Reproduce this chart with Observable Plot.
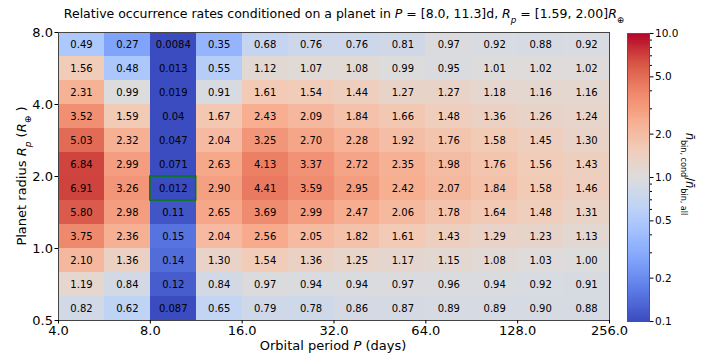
<!DOCTYPE html>
<html><head><meta charset="utf-8">
<script src="https://cdn.jsdelivr.net/npm/d3@7"></script>
<script src="https://cdn.jsdelivr.net/npm/@observablehq/plot@0.6"></script>
<style>
body{margin:0;background:#fff;font-family:"DejaVu Sans",sans-serif;}
#wrap{position:relative;width:707px;height:357px;}
#wrap svg{position:absolute;top:0;}
</style></head><body><div id="wrap"></div>
<script>
// Bin edges (orbital period in days, planet radius in Earth radii)
const periodEdges = [4, 5.657, 8, 11.31, 16, 22.63, 32, 45.25, 64, 90.51, 128, 181.0, 256];
const radiusEdges = [0.5, 0.63, 0.794, 1.0, 1.26, 1.587, 2.0, 2.52, 3.175, 4.0, 5.04, 6.35, 8.0];
const periodTicks = [4, 8, 16, 32, 64, 128, 256];
const radiusTicks = [0.5, 1, 2, 4, 8];
const colorTicks = [0.1, 0.2, 0.5, 1, 2, 5, 10];
const colorMinorTicks = [0.3, 0.4, 0.6, 0.7, 0.8, 0.9, 3, 4, 6, 7, 8, 9];
// Relative rates, rows listed top (largest radius) to bottom
const ratioRows = [
  ["0.49","0.27","0.0084","0.35","0.68","0.76","0.76","0.81","0.97","0.92","0.88","0.92"],
  ["1.56","0.48","0.013","0.55","1.12","1.07","1.08","0.99","0.95","1.01","1.02","1.02"],
  ["2.31","0.99","0.019","0.91","1.61","1.54","1.44","1.27","1.27","1.18","1.16","1.16"],
  ["3.52","1.59","0.04","1.67","2.43","2.09","1.84","1.66","1.48","1.36","1.26","1.24"],
  ["5.03","2.32","0.047","2.04","3.25","2.70","2.28","1.92","1.76","1.58","1.45","1.30"],
  ["6.84","2.99","0.071","2.63","4.13","3.37","2.72","2.35","1.98","1.76","1.56","1.43"],
  ["6.91","3.26","0.012","2.90","4.41","3.59","2.95","2.42","2.07","1.84","1.58","1.46"],
  ["5.80","2.98","0.11","2.65","3.69","2.99","2.47","2.06","1.78","1.64","1.48","1.31"],
  ["3.75","2.36","0.15","2.04","2.56","2.05","1.82","1.61","1.43","1.29","1.23","1.13"],
  ["2.10","1.36","0.14","1.30","1.54","1.36","1.25","1.17","1.15","1.08","1.03","1.00"],
  ["1.19","0.84","0.12","0.84","0.97","0.94","0.94","0.97","0.96","0.94","0.92","0.91"],
  ["0.82","0.62","0.087","0.65","0.79","0.78","0.86","0.87","0.89","0.89","0.90","0.88"]
];
// conditioning bin: P = [8.0, 11.3] d, Rp = [1.59, 2.00]
const condPeriod = [8.0, 11.31];
const condRadius = [1.587, 2.0];
const coolwarm = ["#3b4cc0","#5a78e4","#7b9ff9","#9ebeff","#c0d4f5","#dddcdc","#f2cbb7","#f7ac8e","#ee8468","#d65244","#b40426"];

const nR = radiusEdges.length - 1;
const cells = [];
ratioRows.forEach((row, r) => {
  const j = nR - 1 - r;
  row.forEach((s, i) => cells.push({
    p1: periodEdges[i], p2: periodEdges[i + 1],
    r1: radiusEdges[j], r2: radiusEdges[j + 1],
    label: s, value: +s
  }));
});

const colorOpts = {type: "log", domain: [0.1, 10], clamp: true,
  interpolate: d3.piecewise(d3.interpolateRgb, coolwarm)};

const main = Plot.plot({
  width: 707, height: 357,
  marginTop: 32, marginBottom: 37, marginLeft: 58, marginRight: 98,
  style: {fontFamily: "DejaVu Sans", fontSize: "13px", color: "#000", background: "transparent"},
  x: {type: "log", base: 2, domain: [4, 256]},
  y: {type: "log", base: 2, domain: [0.5, 8]},
  color: colorOpts,
  marks: [
    Plot.rect(cells, {x1: "p1", x2: "p2", y1: "r1", y2: "r2", fill: "value", inset: 0, shapeRendering: "crispEdges"}),
    Plot.text(cells, {x: d => Math.sqrt(d.p1 * d.p2), y: d => Math.sqrt(d.r1 * d.r2), text: "label", fontSize: 10, fill: "#000"}),
    Plot.rect([{p: condPeriod, r: condRadius}], {x1: d => d.p[0], x2: d => d.p[1], y1: d => d.r[0], y2: d => d.r[1], fill: "none", stroke: "#008000", strokeWidth: 1.5}),
    Plot.frame({stroke: "#444"}),
    Plot.axisX({ticks: periodTicks, tickFormat: d => d.toFixed(1), tickSize: 3.5, tickPadding: 2, fontSize: 13, label: null}),
    Plot.axisY({ticks: radiusTicks, tickFormat: d => d.toFixed(1), tickSize: 3.5, tickPadding: 2, fontSize: 13, label: null})
  ]
});

const steps = d3.range(300).map(i => [0.1 * Math.pow(100, i / 300), 0.1 * Math.pow(100, (i + 1) / 300)]);
const cbar = Plot.plot({
  width: 87, height: 357,
  marginTop: 33, marginBottom: 36, marginLeft: 7, marginRight: 58,
  style: {fontFamily: "DejaVu Sans", fontSize: "10.5px", color: "#000", background: "transparent"},
  x: {domain: [0, 1], axis: null},
  y: {type: "log", domain: [0.1, 10]},
  color: colorOpts,
  marks: [
    Plot.rect(steps, {x1: 0, x2: 1, y1: d => d[0], y2: d => d[1], fill: d => Math.sqrt(d[0] * d[1]), shapeRendering: "crispEdges"}),
    Plot.frame({stroke: "#555"}),
    Plot.axisY({anchor: "right", ticks: colorTicks, tickFormat: d => d.toFixed(1), tickSize: 3.5, tickPadding: 2, fontSize: 10.5, label: null}),
    Plot.axisY({anchor: "right", ticks: colorMinorTicks, tickFormat: () => "", tickSize: 2, label: null})
  ]
});

function rich(sel, parts) {
  parts.forEach(p => {
    const t = sel.append("tspan").text(p.t);
    if (p.i) t.attr("font-style", "italic");
    if (p.sub) t.attr("baseline-shift", "sub").attr("font-size", "70%");
  });
}
const ms = d3.select(main);
rich(ms.append("text").attr("x", 344).attr("y", 18).attr("text-anchor", "middle").attr("font-size", 12.5).attr("fill", "#000"), [
  {t: "Relative occurrence rates conditioned on a planet in "}, {t: "P", i: 1}, {t: " = [8.0, 11.3]d, "},
  {t: "R", i: 1}, {t: "p", i: 1, sub: 1}, {t: " = [1.59, 2.00]"}, {t: "R", i: 1}, {t: "⊕", sub: 1}
]);
rich(ms.append("text").attr("x", 333).attr("y", 350).attr("text-anchor", "middle").attr("font-size", 13).attr("fill", "#000"), [
  {t: "Orbital period "}, {t: "P", i: 1}, {t: " (days)"}
]);
rich(ms.append("text").attr("transform", "translate(26,176) rotate(-90)").attr("text-anchor", "middle").attr("font-size", 13).attr("fill", "#000"), [
  {t: "Planet radius "}, {t: "R", i: 1}, {t: "p", i: 1, sub: 1}, {t: " ("}, {t: "R", i: 1}, {t: "⊕", sub: 1}, {t: " )"}
]);
rich(d3.select(cbar).append("text").attr("transform", "translate(66,174) rotate(90)").attr("text-anchor", "middle").attr("font-size", 11.5).attr("fill", "#000"), [
  {t: "n\u0304", i: 1}, {t: "bin, cond", sub: 1}, {t: "/"}, {t: "n\u0304", i: 1}, {t: "bin, all", sub: 1}
]);

const wrap = document.getElementById("wrap");
main.style.left = "0px";
cbar.style.left = "620px";
wrap.appendChild(main);
wrap.appendChild(cbar);
</script></body></html>
